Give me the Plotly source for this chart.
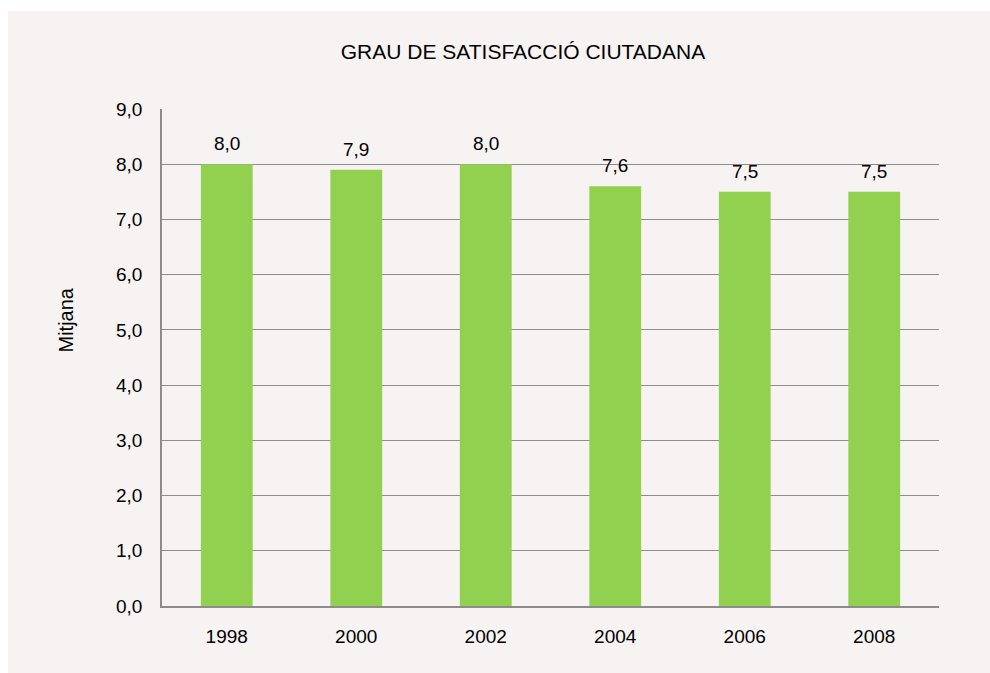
import plotly.graph_objects as go

# Survey results: mean citizen satisfaction by year
years = ["1998", "2000", "2002", "2004", "2006", "2008"]
mitjana = [8.0, 7.9, 8.0, 7.6, 7.5, 7.5]

y_ticks = [0, 1, 2, 3, 4, 5, 6, 7, 8, 9]

FONT = "Liberation Sans, Arial, sans-serif"
BAR_COLOR = "#92D050"
PANEL = "#F8F3F3"
GRID = "#8C8C8C"

W, H = 990, 673
L, R, T, B = 162, 51, 109, 67
pw, ph = W - L - R, H - T - B


def px_to_paper_x(px):
    return (px - L) / pw


def px_to_paper_y(py):
    return (H - B - py) / ph


def fmt(v):
    return f"{v:.1f}".replace(".", ",")


pos = list(range(len(years)))

fig = go.Figure()
fig.add_trace(go.Bar(
    x=pos,
    y=mitjana,
    width=0.4,
    marker=dict(color=BAR_COLOR, line=dict(width=0)),
    customdata=years,
    hovertemplate="%{customdata}: %{y}<extra></extra>",
))

annotations = [
    dict(x=p, y=v, xref="x", yref="y", text=fmt(v), showarrow=False,
         yanchor="bottom", yshift=8, font=dict(family=FONT, size=19, color="#000"))
    for p, v in zip(pos, mitjana)
]
annotations.append(dict(
    x=px_to_paper_x(65.5), y=px_to_paper_y(320), xref="paper", yref="paper",
    xanchor="center", yanchor="middle",
    text="Mitjana", textangle=-90, showarrow=False,
    font=dict(family=FONT, size=20, color="#000"),
))

fig.update_layout(
    width=W, height=H,
    margin=dict(l=L, r=R, t=T, b=B, pad=0),
    paper_bgcolor="white",
    plot_bgcolor="rgba(0,0,0,0)",
    separators=",.",
    showlegend=False,
    title=dict(text="GRAU DE SATISFACCIÓ CIUTADANA",
               x=px_to_paper_x(523), xref="paper", xanchor="center",
               y=1 - 52 / H, yanchor="middle",
               font=dict(family=FONT, size=21, color="#000")),
    xaxis=dict(range=[-0.5, len(years) - 0.5], tickvals=pos, ticktext=years,
               showgrid=False, showline=True, linecolor=GRID,
               linewidth=1.5, ticks="", zeroline=False,
               tickfont=dict(family=FONT, size=19, color="#000"),
               ticklabelstandoff=12),
    yaxis=dict(range=[0, 9], tickvals=y_ticks, tickformat=".1f",
               showgrid=True, gridcolor=GRID, gridwidth=1,
               showline=True, linecolor=GRID, linewidth=1.5,
               zeroline=False, ticks="",
               tickfont=dict(family=FONT, size=19, color="#000"),
               ticklabelstandoff=14),
    annotations=annotations,
    shapes=[dict(type="rect", xref="paper", yref="paper", layer="below",
                 x0=px_to_paper_x(8), x1=px_to_paper_x(W + 10),
                 y0=px_to_paper_y(H + 10), y1=px_to_paper_y(11),
                 fillcolor=PANEL, line=dict(width=0))],
)

fig.write_html("out.html")
